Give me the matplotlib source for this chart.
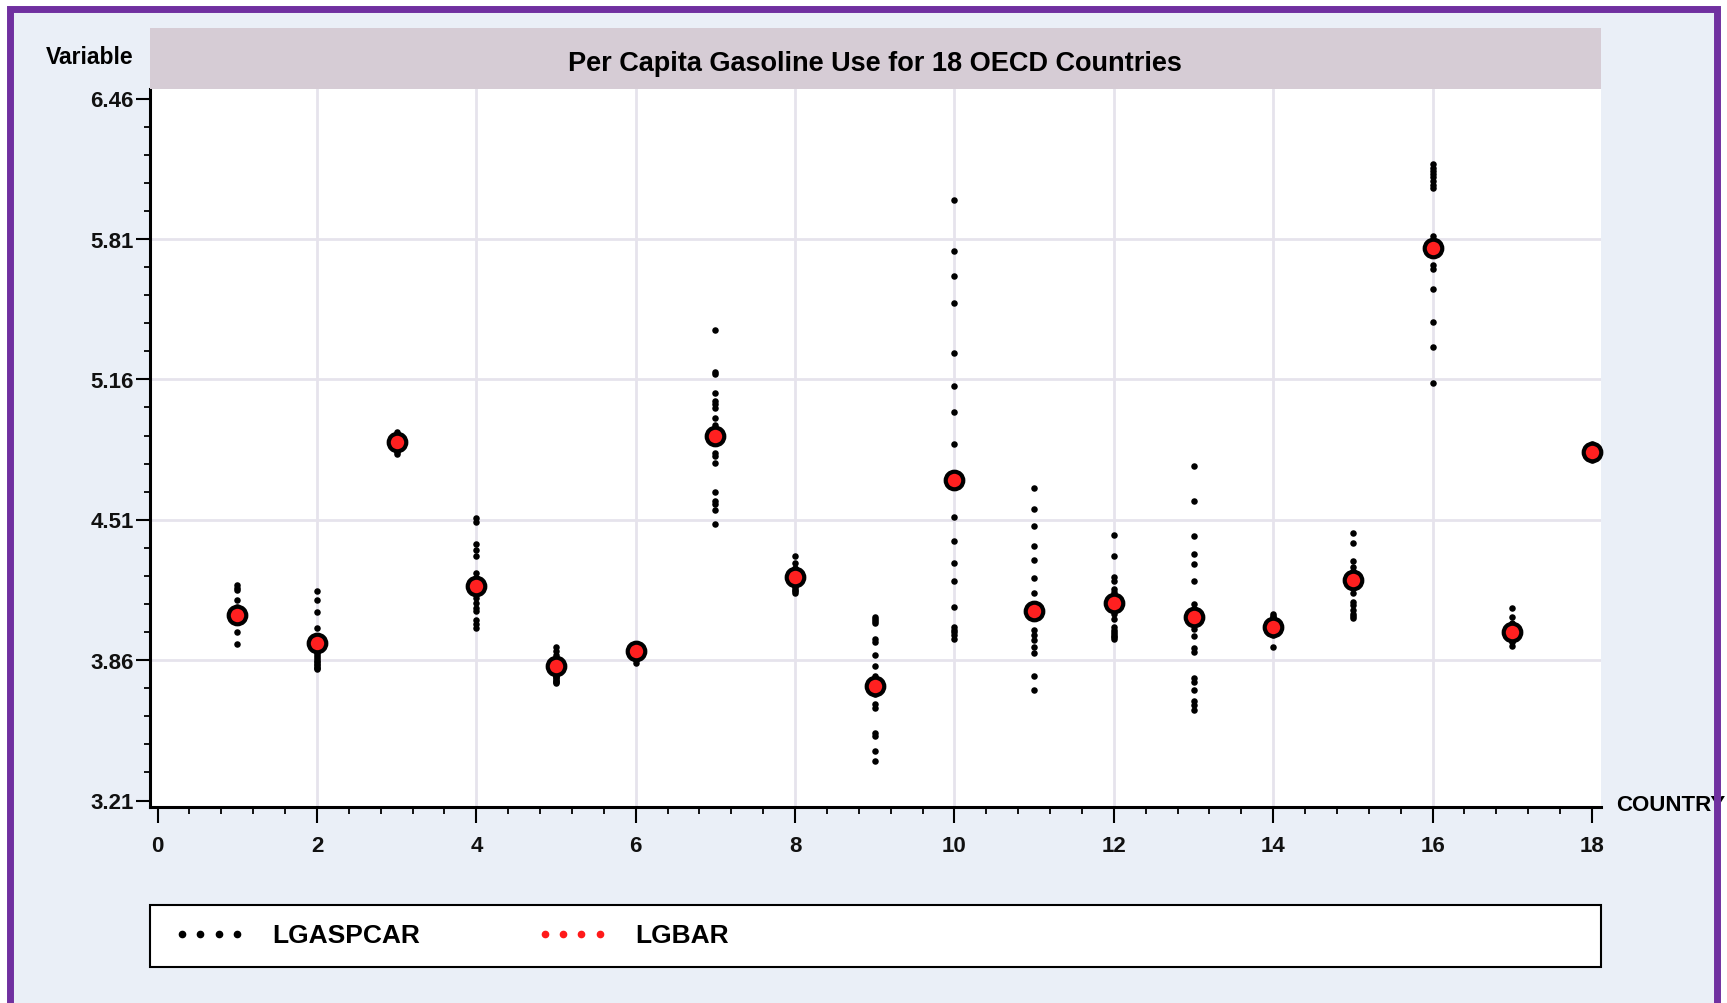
import numpy as np
import matplotlib.pyplot as plt
from matplotlib.patches import Rectangle
from matplotlib.lines import Line2D

# country ids and country means (LGBAR)
country = list(range(1, 19))
lgbar = [4.070, 3.939, 4.868, 4.202, 3.831, 3.904, 4.896, 4.246, 3.741,
         4.694, 4.088, 4.125, 4.060, 4.014, 4.233, 5.770, 3.990, 4.822]

# yearly LGASPCAR values per country (19 years each)
lgaspcar_01 = [4.209, 4.195, 4.185, 4.140, 4.105, 4.098, 4.090, 4.083, 4.076, 4.070,
               4.065, 4.060, 4.055, 4.050, 4.045, 4.040, 4.035, 3.990, 3.935]
lgaspcar_02 = [4.178, 4.140, 4.084, 4.009, 3.962, 3.950, 3.930, 3.905, 3.895, 3.885,
               3.875, 3.865, 3.858, 3.850, 3.843, 3.836, 3.830, 3.825, 3.820]
lgaspcar_03 = [4.915, 4.905, 4.898, 4.890, 4.885, 4.880, 4.876, 4.872, 4.868, 4.865,
               4.862, 4.858, 4.855, 4.850, 4.845, 4.840, 4.833, 4.825, 4.815]
lgaspcar_04 = [4.518, 4.498, 4.399, 4.368, 4.340, 4.264, 4.240, 4.225, 4.210, 4.195,
               4.180, 4.165, 4.148, 4.125, 4.101, 4.086, 4.047, 4.029, 4.009]
lgaspcar_05 = [3.921, 3.901, 3.885, 3.862, 3.850, 3.840, 3.830, 3.820, 3.810, 3.800,
               3.795, 3.790, 3.785, 3.780, 3.775, 3.770, 3.765, 3.760, 3.754]
lgaspcar_06 = [3.935, 3.930, 3.925, 3.920, 3.915, 3.912, 3.908, 3.905, 3.902, 3.900,
               3.897, 3.894, 3.890, 3.887, 3.882, 3.877, 3.870, 3.860, 3.848]
lgaspcar_07 = [5.387, 5.193, 5.187, 5.097, 5.058, 5.047, 5.027, 4.981, 4.951, 4.920,
               4.880, 4.819, 4.807, 4.773, 4.637, 4.595, 4.585, 4.557, 4.491]
lgaspcar_08 = [4.340, 4.310, 4.285, 4.275, 4.265, 4.258, 4.252, 4.246, 4.240, 4.235,
               4.230, 4.225, 4.220, 4.212, 4.205, 4.195, 4.185, 4.178, 4.171]
lgaspcar_09 = [4.061, 4.050, 4.043, 4.030, 3.960, 3.942, 3.882, 3.833, 3.787, 3.765,
               3.745, 3.720, 3.705, 3.659, 3.637, 3.522, 3.510, 3.440, 3.394]
lgaspcar_10 = [5.993, 5.755, 5.640, 5.512, 5.282, 5.129, 5.007, 4.862, 4.700, 4.525,
               4.410, 4.311, 4.227, 4.105, 4.015, 4.000, 3.990, 3.975, 3.960]
lgaspcar_11 = [4.656, 4.562, 4.479, 4.387, 4.325, 4.242, 4.171, 4.120, 4.100, 4.090,
               4.075, 4.055, 3.998, 3.975, 3.952, 3.921, 3.891, 3.786, 3.724]
lgaspcar_12 = [4.441, 4.341, 4.245, 4.226, 4.190, 4.176, 4.150, 4.135, 4.115, 4.095,
               4.075, 4.050, 4.014, 4.000, 3.990, 3.980, 3.972, 3.965, 3.960]
lgaspcar_13 = [4.757, 4.595, 4.433, 4.350, 4.304, 4.227, 4.122, 4.080, 4.045, 4.006,
               3.971, 3.918, 3.898, 3.775, 3.760, 3.724, 3.672, 3.650, 3.629]
lgaspcar_14 = [4.075, 4.065, 4.058, 4.050, 4.045, 4.040, 4.035, 4.030, 4.025, 4.020,
               4.015, 4.010, 4.005, 4.000, 3.995, 3.990, 3.985, 3.978, 3.921]
lgaspcar_15 = [4.448, 4.402, 4.319, 4.291, 4.275, 4.265, 4.255, 4.245, 4.235, 4.225,
               4.215, 4.200, 4.171, 4.129, 4.114, 4.091, 4.075, 4.065, 4.057]
lgaspcar_16 = [6.158, 6.140, 6.125, 6.110, 6.095, 6.080, 6.060, 6.045, 5.825, 5.800,
               5.785, 5.760, 5.740, 5.692, 5.672, 5.579, 5.425, 5.312, 5.145]
lgaspcar_17 = [4.103, 4.061, 4.030, 4.020, 4.012, 4.005, 4.000, 3.995, 3.990, 3.985,
               3.980, 3.975, 3.970, 3.965, 3.960, 3.955, 3.950, 3.945, 3.925]
lgaspcar_18 = [4.862, 4.858, 4.852, 4.848, 4.843, 4.838, 4.834, 4.830, 4.826, 4.822,
               4.818, 4.814, 4.810, 4.806, 4.802, 4.798, 4.794, 4.790, 4.786]

lgaspcar = [lgaspcar_01, lgaspcar_02, lgaspcar_03, lgaspcar_04, lgaspcar_05, lgaspcar_06,
            lgaspcar_07, lgaspcar_08, lgaspcar_09, lgaspcar_10, lgaspcar_11, lgaspcar_12,
            lgaspcar_13, lgaspcar_14, lgaspcar_15, lgaspcar_16, lgaspcar_17, lgaspcar_18]

y_ticks = [3.21, 3.86, 4.51, 5.16, 5.81, 6.46]
x_ticks = list(range(0, 19, 2))

title = "Per Capita Gasoline Use for 18 OECD Countries"

# --- figure ---
W, H = 1727, 1003
fig = plt.figure(figsize=((W + 0.5) / 100, (H + 0.5) / 100), dpi=100)
fig.patch.set_facecolor("white")

FONT = "Liberation Sans"
BG = "#eaeff7"
PURPLE = "#7030a0"


def fx(px):
    return px / W


def fy(py):
    return 1 - py / H


# page background + purple frame
fig.patches.append(Rectangle((fx(10), fy(1004)), fx(1716.5 - 10), (1004 - 9) / H,
                             transform=fig.transFigure, facecolor=BG,
                             edgecolor="none", zorder=-10))
fig.patches.append(Rectangle((fx(10), fy(1004)), fx(1716.5 - 10), (1004 - 9) / H,
                             transform=fig.transFigure, facecolor="none",
                             edgecolor=PURPLE, linewidth=5, zorder=20))

# title band
L, R, T, B = 149.8, 1600.3, 89.2, 807.3
fig.patches.append(Rectangle((fx(L), fy(T)), fx(R - L), (T - 28.6) / H,
                             transform=fig.transFigure, facecolor="#d6ccd5",
                             edgecolor="none", zorder=1))
fig.text(fx((L + R) / 2), fy(64), title, ha="center", va="center",
         fontsize=19.5, fontweight="bold", family=FONT, zorder=2)

ax = fig.add_axes([fx(L), fy(B), fx(R - L), (B - T) / H])
ax.set_facecolor("white")

for cid, vals in zip(country, lgaspcar):
    ax.scatter(np.full(len(vals), cid), vals, s=22, c="black", linewidths=0,
               zorder=3, clip_on=False)
ax.scatter(country, lgbar, s=160, c="#ff2020", edgecolors="black",
           linewidths=3.0, zorder=4, clip_on=False)

ax.set_xlim(-0.097, 18.11)
ax.set_ylim(3.179, 6.506)

ax.set_xticks(x_ticks)
ax.set_xticks(np.arange(0, 18.01, 0.4), minor=True)
ax.set_yticks(y_ticks)
ax.set_yticks(np.arange(3.21, 6.47, 0.13), minor=True)
ax.set_yticklabels([f"{v:.2f}" for v in y_ticks])

for v in y_ticks[1:-1]:
    ax.axhline(v, color="#e6e3ec", lw=2, zorder=0)
for v in x_ticks[1:-1]:
    ax.axvline(v, color="#e6e3ec", lw=2, zorder=0)

for side in ["top", "right"]:
    ax.spines[side].set_visible(False)
for side in ["left", "bottom"]:
    ax.spines[side].set_linewidth(2.2)
    ax.spines[side].set_color("black")

ax.tick_params(axis="x", which="major", length=11.5, width=1.5, pad=9)
ax.tick_params(axis="x", which="minor", length=5, width=1.3)
ax.tick_params(axis="y", which="major", length=10, width=1.5, pad=1.5)
ax.tick_params(axis="y", which="minor", length=4.5, width=1.3)
for lab in ax.get_xticklabels() + ax.get_yticklabels():
    lab.set_fontfamily(FONT)
    lab.set_fontweight("bold")
    lab.set_fontsize(16)
    lab.set_color("#111111")

fig.text(fx(90), fy(57), "Variable", ha="center", va="center",
         fontsize=16.5, fontweight="bold", family=FONT)
fig.text(fx(1616), fy(805), "COUNTRY", ha="left", va="center",
         fontsize=16, fontweight="bold", family=FONT, zorder=5)

# legend box
fig.patches.append(Rectangle((fx(L), fy(967)), fx(R - L), (967 - 905.4) / H,
                             transform=fig.transFigure, facecolor="white",
                             edgecolor="black", linewidth=1.5, zorder=1))
handles = [Line2D([0], [0], marker="o", ls="None", color="black", ms=4.5),
           Line2D([0], [0], marker="o", ls="None", color="#ff1a1a", ms=4.5)]
fig.legend(handles, ["LGASPCAR", "LGBAR"], loc="center left",
           bbox_to_anchor=(fx(174), fy(936)), frameon=False, ncol=2,
           numpoints=4, handlelength=2.68, handletextpad=1.06,
           columnspacing=4.4, borderpad=0, borderaxespad=0,
           prop={"family": FONT, "weight": "bold", "size": 19})

fig.savefig("out.png", dpi=100, facecolor=fig.get_facecolor())
